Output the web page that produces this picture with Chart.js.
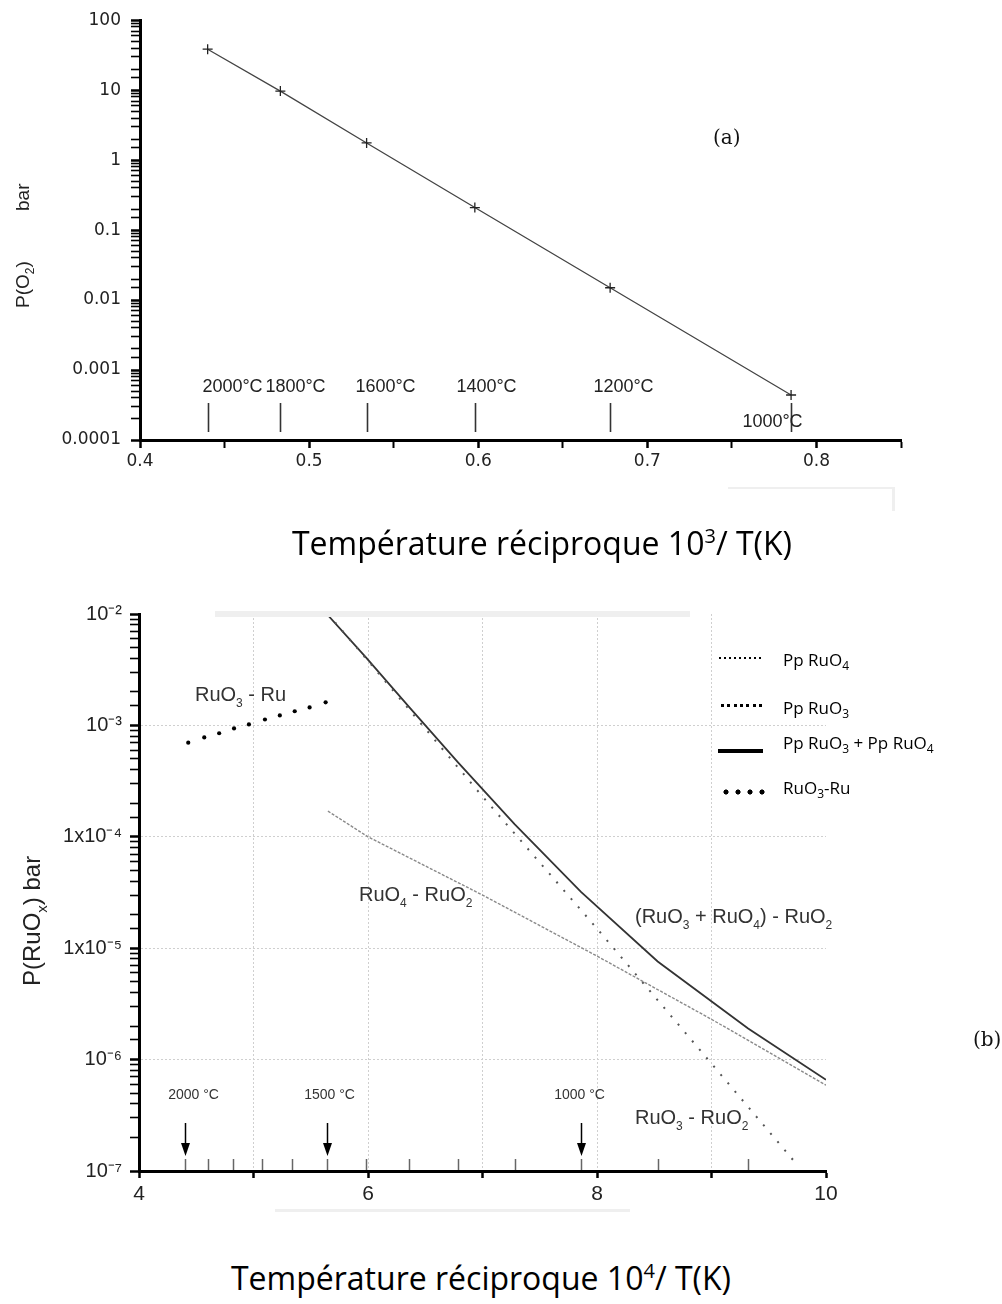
<!DOCTYPE html>
<html>
<head>
<meta charset="utf-8">
<script src="https://cdn.jsdelivr.net/npm/chart.js"></script>
<style>
  body { margin: 0; background: #fff; width: 1002px; height: 1304px; position: relative; overflow: hidden; font-family: Arial, "Liberation Sans", sans-serif; }
  canvas { position: absolute; left: 0; }
  #chartA { top: 0; }
  #chartB { top: 560px; }
  .axtitle { position: absolute; font-family: "Open Sans", sans-serif; font-size: 32px; color: #000; white-space: nowrap; transform: translateX(-50%); line-height: 1; }
  .axtitle sup { font-size: 20px; vertical-align: 12px; line-height: 0; }
  .tag { position: absolute; font-family: "DejaVu Serif", "Liberation Serif", serif; font-size: 20px; color: #111; }
  .leg { position: absolute; left: 783px; font-family: "Open Sans", sans-serif; font-size: 17px; color: #000; white-space: nowrap; line-height: 1; }
  .leg sub { font-size: 12px; vertical-align: -4px; line-height: 0; }
  .sample { position: absolute; }
  .artifact { position: absolute; background: #efefef; }
</style>
</head>
<body>
<canvas id="chartA" width="1002" height="480"></canvas>
<canvas id="chartB" width="1002" height="680"></canvas>

<div class="axtitle" style="left:542px; top:527px;">Température réciproque 10<sup>3</sup>/ T(K)</div>
<div class="axtitle" style="left:481px; top:1262px;">Température réciproque 10<sup>4</sup>/ T(K)</div>
<div class="tag" style="left:713px; top:125px;">(a)</div>
<div class="tag" style="left:973px; top:1027px;">(b)</div>

<!-- legend of (b) -->
<div class="sample" style="left:719px; top:657px; width:44px; height:2px; background:repeating-linear-gradient(90deg,#000 0 2px,transparent 2px 5px);"></div>
<div class="leg" style="top:651px;">Pp RuO<sub>4</sub></div>
<div class="sample" style="left:721px; top:704px; width:42px; height:3px; background:repeating-linear-gradient(90deg,#000 0 3px,transparent 3px 6.3px);"></div>
<div class="leg" style="top:699px;">Pp RuO<sub>3</sub></div>
<div class="sample" style="left:718px; top:749px; width:45px; height:4px; background:#000;"></div>
<div class="leg" style="top:734px;">Pp RuO<sub>3</sub> + Pp RuO<sub>4</sub></div>
<div class="sample" style="left:723px; top:789px; width:44px; height:6px; background:radial-gradient(circle at 3px 3px,#000 2.3px,transparent 2.8px) 0 0/12px 6px repeat-x;"></div>
<div class="leg" style="top:779px;">RuO<sub>3</sub>-Ru</div>

<!-- faint scan artefacts -->
<div class="artifact" style="left:215px; top:611px; width:475px; height:6px;"></div>
<div class="artifact" style="left:728px; top:487px; width:166px; height:2px;"></div>
<div class="artifact" style="left:892px; top:487px; width:3px; height:24px;"></div>
<div class="artifact" style="left:275px; top:1209px; width:355px; height:3px;"></div>

<script>
// ---------- (a) P(O2) vs 10^3/T ----------
const tempLabelsA = ['2000°C', '1800°C', '1600°C', '1400°C', '1200°C', '1000°C'];
const invTempA = [0.44, 0.483, 0.534, 0.598, 0.678, 0.785];
const pO2 = [38.5, 9.7, 1.76, 0.21, 0.015, 0.00044];
const yTickLabelsA = ['0.0001', '0.001', '0.01', '0.1', '1', '10', '100'];
const xTickLabelsA = ['0.4', '0.5', '0.6', '0.7', '0.8'];

// ---------- (b) P(RuOx) vs 10^4/T ----------
const ruo4X = [5.65, 6.0, 7.0, 8.0, 9.0, 10.0];
const ruo4Y = [1.7e-4, 1.0e-4, 3.0e-5, 8.5e-6, 2.3e-6, 5.9e-7];
const ruo3X = [5.65, 6.0, 7.0, 8.0, 9.0, 9.76];
const ruo3Y = [1.0e-2, 3.8e-3, 2.3e-4, 1.5e-5, 9.2e-7, 1.1e-7];
const sumX = [5.64, 5.98, 6.36, 6.79, 7.28, 7.86, 8.53, 9.32, 10.0];
const sumY = [1.0e-2, 4.1e-3, 1.46e-3, 4.6e-4, 1.3e-4, 3.2e-5, 7.6e-6, 1.9e-6, 6.6e-7];
const ruRuo3X = [4.43, 4.57, 4.70, 4.83, 4.96, 5.10, 5.23, 5.36, 5.49, 5.63];
const ruRuo3Y = [7.0e-4, 7.8e-4, 8.5e-4, 9.4e-4, 1.02e-3, 1.13e-3, 1.23e-3, 1.34e-3, 1.45e-3, 1.61e-3];
const yTickLabelsB = ['10⁻⁷', '10⁻⁶', '1x10⁻⁵', '1x10⁻⁴', '10⁻³', '10⁻²'];
const xTickLabelsB = {4: '4', 6: '6', 8: '8', 10: '10'};
const tempTicksB = [4.40, 4.60, 4.82, 5.07, 5.34, 5.64, 5.98, 6.36, 6.79, 7.28, 7.86, 8.53, 9.32];
const arrowTempsB = [4.40, 5.64, 7.86];
const arrowLabelsB = ['2000 °C', '1500 °C', '1000 °C'];

function pts(xs, ys) { return xs.map((x, i) => ({x: x, y: ys[i]})); }
function isDecade(v) { const l = Math.log10(v); return Math.abs(l - Math.round(l)) < 1e-6; }

// texte avec indices (parts: [texte, estIndice])
function drawRich(ctx, parts, x, y, size) {
  let cx = x;
  parts.forEach(p => {
    if (p[1]) {
      ctx.font = Math.round(size * 0.62) + 'px Arial';
      ctx.fillText(p[0], cx, y + size * 0.28);
    } else {
      ctx.font = size + 'px Arial';
      ctx.fillText(p[0], cx, y);
    }
    cx += ctx.measureText(p[0]).width;
  });
}

// ---- chart (a) ----
const decorA = {
  id: 'decorA',
  afterDraw(chart) {
    const {ctx, chartArea, scales: {x}} = chart;
    const b = chartArea.bottom;
    const dx = [24, 15, 18, 11, 13, -19];
    ctx.save();
    ctx.strokeStyle = '#333';
    ctx.lineWidth = 1.6;
    ctx.fillStyle = '#222';
    ctx.font = '18px Arial';
    ctx.textAlign = 'center';
    invTempA.forEach((t, i) => {
      const px = Math.round(x.getPixelForValue(t)) + 0.5;
      ctx.beginPath();
      ctx.moveTo(px, b - 37);
      ctx.lineTo(px, b - 8);
      ctx.stroke();
      const ty = i === invTempA.length - 1 ? b - 13 : b - 48;
      ctx.fillText(tempLabelsA[i], px + dx[i], ty);
    });
    // titre axe Y
    ctx.translate(29, 245);
    ctx.rotate(-Math.PI / 2);
    ctx.textAlign = 'left';
    ctx.fillStyle = '#222';
    drawRich(ctx, [['P(O', 0], ['2', 1], [')', 0]], -63, 0, 19);
    drawRich(ctx, [['bar', 0]], 34, 0, 19);
    ctx.restore();
  }
};

new Chart(document.getElementById('chartA'), {
  type: 'line',
  data: {
    datasets: [{
      data: pts(invTempA, pO2),
      borderColor: '#444',
      borderWidth: 1.3,
      pointStyle: 'cross',
      pointRadius: 5,
      pointBorderWidth: 1.3,
      pointBorderColor: '#222',
      tension: 0
    }]
  },
  options: {
    responsive: false,
    animation: false,
    layout: { padding: { top: 19, right: 101, left: 0, bottom: 0 } },
    plugins: { legend: { display: false }, tooltip: { enabled: false } },
    scales: {
      x: {
        type: 'linear', min: 0.4, max: 0.85,
        afterFit: s => { s.height = 40; },
        ticks: {
          stepSize: 0.05, autoSkip: false, maxRotation: 0, padding: 3,
          color: '#222', font: { size: 17, family: 'DejaVu Sans' },
          callback: (v, i) => (i % 2 === 0 && xTickLabelsA[i / 2]) ? xTickLabelsA[i / 2] : ''
        },
        grid: { drawOnChartArea: false, tickLength: 8, tickColor: '#000', tickWidth: c => (c.index % 2 === 0 ? 2.5 : 2) },
        border: { color: '#000', width: 3 }
      },
      y: {
        type: 'logarithmic', min: 1e-4, max: 100,
        afterFit: s => { s.width = 140; },
        ticks: {
          autoSkip: false, padding: 10, color: '#222', font: { size: 17, family: 'DejaVu Sans' },
          callback: v => isDecade(v) ? yTickLabelsA[Math.round(Math.log10(v)) + 4] : ''
        },
        grid: { drawOnChartArea: false, tickLength: 9, tickColor: '#000', tickWidth: c => (c.tick && isDecade(c.tick.value) ? 2.5 : 1.6) },
        border: { color: '#000', width: 3 }
      }
    }
  },
  plugins: [decorA]
});

// ---- chart (b) ----
const decorB = {
  id: 'decorB',
  afterDraw(chart) {
    const {ctx, chartArea, scales: {x}} = chart;
    const b = chartArea.bottom;
    ctx.save();
    // repères de température
    ctx.strokeStyle = '#666';
    ctx.lineWidth = 1.5;
    tempTicksB.forEach(t => {
      const px = Math.round(x.getPixelForValue(t)) + 0.5;
      ctx.beginPath(); ctx.moveTo(px, b - 1); ctx.lineTo(px, b - 12); ctx.stroke();
    });
    // flèches
    ctx.strokeStyle = '#000';
    ctx.fillStyle = '#000';
    ctx.lineWidth = 1.5;
    ctx.font = '14px Arial';
    ctx.textAlign = 'center';
    arrowTempsB.forEach((t, i) => {
      const px = Math.round(x.getPixelForValue(t)) + 0.5;
      ctx.beginPath(); ctx.moveTo(px, b - 48); ctx.lineTo(px, b - 24); ctx.stroke();
      ctx.beginPath(); ctx.moveTo(px - 4.5, b - 28); ctx.lineTo(px + 4.5, b - 28); ctx.lineTo(px, b - 15); ctx.closePath(); ctx.fill();
      ctx.fillStyle = '#333';
      ctx.fillText(arrowLabelsB[i], px + [8, 2, -2][i], b - 72);
      ctx.fillStyle = '#000';
    });
    // étiquettes des courbes
    ctx.textAlign = 'left';
    ctx.fillStyle = '#333';
    const top = 560;
    drawRich(ctx, [['RuO', 0], ['3', 1], [' - Ru', 0]], 195, 701 - top, 20);
    drawRich(ctx, [['RuO', 0], ['4', 1], [' - RuO', 0], ['2', 1]], 359, 901 - top, 20);
    drawRich(ctx, [['(RuO', 0], ['3', 1], [' + RuO', 0], ['4', 1], [') - RuO', 0], ['2', 1]], 635, 923 - top, 20);
    drawRich(ctx, [['RuO', 0], ['3', 1], [' - RuO', 0], ['2', 1]], 635, 1124 - top, 20);
    // titre axe Y
    ctx.translate(40, 912 - top);
    ctx.rotate(-Math.PI / 2);
    ctx.fillStyle = '#222';
    drawRich(ctx, [['P(RuO', 0], ['x', 1], [') bar', 0]], -74, 0, 24);
    ctx.restore();
  }
};

new Chart(document.getElementById('chartB'), {
  type: 'line',
  data: {
    datasets: [
      { data: pts(ruo4X, ruo4Y), borderColor: '#8a8a8a', borderWidth: 1.4, borderDash: [3, 1.5], pointRadius: 0, tension: 0 },
      { data: pts(ruo3X, ruo3Y), borderColor: '#555', borderWidth: 2, borderDash: [2, 9], pointRadius: 0, tension: 0 },
      { data: pts(sumX, sumY), borderColor: '#333', borderWidth: 1.8, pointRadius: 0, tension: 0 },
      { data: pts(ruRuo3X, ruRuo3Y), showLine: false, pointRadius: 2.1, pointBackgroundColor: '#000', pointBorderWidth: 0 }
    ]
  },
  options: {
    responsive: false,
    animation: false,
    layout: { padding: { top: 54, right: 176, left: 0, bottom: 0 } },
    plugins: { legend: { display: false }, tooltip: { enabled: false } },
    scales: {
      x: {
        type: 'linear', min: 4, max: 10,
        afterFit: s => { s.height = 69; },
        ticks: {
          stepSize: 1, autoSkip: false, maxRotation: 0, padding: 4,
          color: '#222', font: { size: 21, family: 'Arial' },
          callback: v => xTickLabelsB[v] || ''
        },
        grid: {
          color: c => (c.tick && (c.tick.value === 4 || c.tick.value === 10) ? 'transparent' : '#cfcfcf'),
          tickLength: 7, tickColor: '#000', tickWidth: 2.5
        },
        border: { color: '#000', width: 3, dash: [2, 2] }
      },
      y: {
        type: 'logarithmic', min: 1e-7, max: 1e-2,
        afterFit: s => { s.width = 139; },
        ticks: {
          autoSkip: false, padding: 8, color: '#222', font: { size: 20, family: 'Arial' },
          callback: v => isDecade(v) ? yTickLabelsB[Math.round(Math.log10(v)) + 7] : ''
        },
        grid: {
          color: c => (c.tick && isDecade(c.tick.value) && c.tick.value > 1.5e-7 && c.tick.value < 0.009 ? '#cfcfcf' : 'transparent'),
          tickLength: 9, tickColor: '#000', tickWidth: c => (c.tick && isDecade(c.tick.value) ? 2.5 : 1.6)
        },
        border: { color: '#000', width: 3, dash: [2, 2] }
      }
    }
  },
  plugins: [decorB]
});
</script>
</body>
</html>
